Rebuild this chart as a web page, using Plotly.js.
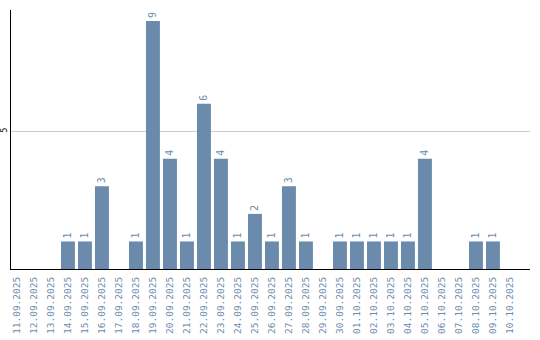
<!DOCTYPE html>
<html><head><meta charset="utf-8">
<script src="https://cdn.plot.ly/plotly-3.0.1.min.js"></script>
<style>html,body{margin:0;padding:0;background:#fff}#c{width:540px;height:340px}</style>
</head><body><div id="c"></div>
<script>
const dates = ["11.09.2025","12.09.2025","13.09.2025","14.09.2025","15.09.2025","16.09.2025","17.09.2025","18.09.2025","19.09.2025","20.09.2025","21.09.2025","22.09.2025","23.09.2025","24.09.2025","25.09.2025","26.09.2025","27.09.2025","28.09.2025","29.09.2025","30.09.2025","01.10.2025","02.10.2025","03.10.2025","04.10.2025","05.10.2025","06.10.2025","07.10.2025","08.10.2025","09.10.2025","10.10.2025"];
const counts = [0,0,0,1,1,3,0,1,9,4,1,6,4,1,2,1,3,1,0,1,1,1,1,1,4,0,0,1,1,0];
const yTicks = [5];
const labels = counts.map(v => v ? String(v) : "");
const barColor = "#6a8bab";
Plotly.newPlot("c", [{
  type: "bar", x: dates, y: counts, text: labels,
  textposition: "outside", textangle: -90, cliponaxis: false,
  textfont: {family: "DejaVu Sans Mono", size: 10, color: barColor},
  marker: {color: barColor}, hoverinfo: "none"
}], {
  width: 540, height: 340,
  margin: {l: 11, r: 10, t: 10, b: 71},
  paper_bgcolor: "#fff", plot_bgcolor: "#fff",
  bargap: 0.18, showlegend: false,
  xaxis: {type: "category", range: [-0.35, 30.18], showline: true, linecolor: "#000", linewidth: 1,
    tickangle: -90, ticks: "", showgrid: false, zeroline: false, ticklabelstandoff: 3,
    tickfont: {family: "DejaVu Sans Mono", size: 9.5, color: barColor}},
  yaxis: {range: [0, 9.4], tickmode: "array", tickvals: yTicks, ticktext: yTicks.map(String),
    showline: true, linecolor: "#000", linewidth: 1,
    gridcolor: "#cccccc", zeroline: false, ticks: "", showticklabels: true,
    tickangle: -90, tickfont: {family: "DejaVu Sans Mono", size: 8, color: "#000"}}
}, {displayModeBar: false, staticPlot: true});
</script></body></html>
